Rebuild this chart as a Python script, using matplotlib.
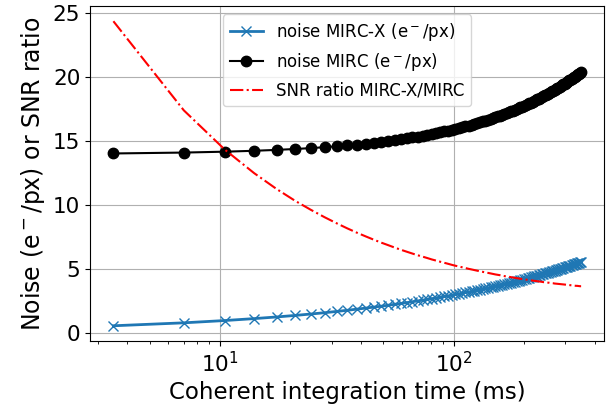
import matplotlib
matplotlib.use("Agg")
import matplotlib.pyplot as plt

time_ms = [3.5, 7.0, 10.5, 14.0, 17.5, 21.0, 24.5, 28.0, 31.5, 35.0,
           38.5, 42.0, 45.5, 49.0, 52.5, 56.0, 59.5, 63.0, 66.5, 70.0,
           73.5, 77.0, 80.5, 84.0, 87.5, 91.0, 94.5, 98.0, 101.5, 105.0,
           108.5, 112.0, 115.5, 119.0, 122.5, 126.0, 129.5, 133.0, 136.5, 140.0,
           143.5, 147.0, 150.5, 154.0, 157.5, 161.0, 164.5, 168.0, 171.5, 175.0,
           178.5, 182.0, 185.5, 189.0, 192.5, 196.0, 199.5, 203.0, 206.5, 210.0,
           213.5, 217.0, 220.5, 224.0, 227.5, 231.0, 234.5, 238.0, 241.5, 245.0,
           248.5, 252.0, 255.5, 259.0, 262.5, 266.0, 269.5, 273.0, 276.5, 280.0,
           283.5, 287.0, 290.5, 294.0, 297.5, 301.0, 304.5, 308.0, 311.5, 315.0,
           318.5, 322.0, 325.5, 329.0, 332.5, 336.0, 339.5, 343.0, 346.5, 350.0]

noise_mircx = [0.58, 0.81, 0.99, 1.14, 1.27, 1.39, 1.50, 1.60, 1.70, 1.79,
               1.88, 1.96, 2.04, 2.11, 2.19, 2.26, 2.33, 2.39, 2.46, 2.52,
               2.58, 2.64, 2.70, 2.76, 2.81, 2.87, 2.92, 2.97, 3.03, 3.08,
               3.13, 3.18, 3.22, 3.27, 3.32, 3.37, 3.41, 3.46, 3.50, 3.54,
               3.59, 3.63, 3.67, 3.72, 3.76, 3.80, 3.84, 3.88, 3.92, 3.96,
               4.00, 4.03, 4.07, 4.11, 4.15, 4.18, 4.22, 4.26, 4.29, 4.33,
               4.36, 4.40, 4.43, 4.47, 4.50, 4.54, 4.57, 4.60, 4.64, 4.67,
               4.70, 4.73, 4.77, 4.80, 4.83, 4.86, 4.89, 4.93, 4.96, 4.99,
               5.02, 5.05, 5.08, 5.11, 5.14, 5.17, 5.20, 5.23, 5.26, 5.28,
               5.31, 5.34, 5.37, 5.40, 5.43, 5.46, 5.48, 5.51, 5.54, 5.57]

noise_mirc = [14.04, 14.11, 14.18, 14.25, 14.32, 14.39, 14.46, 14.53, 14.60, 14.67,
              14.74, 14.81, 14.88, 14.95, 15.01, 15.08, 15.15, 15.22, 15.29, 15.35,
              15.42, 15.49, 15.56, 15.62, 15.69, 15.76, 15.82, 15.89, 15.96, 16.02,
              16.09, 16.16, 16.22, 16.29, 16.35, 16.42, 16.48, 16.55, 16.61, 16.68,
              16.74, 16.81, 16.87, 16.94, 17.00, 17.07, 17.13, 17.20, 17.26, 17.32,
              17.39, 17.45, 17.51, 17.58, 17.64, 17.70, 17.77, 17.83, 17.89, 17.96,
              18.02, 18.08, 18.14, 18.21, 18.27, 18.33, 18.39, 18.46, 18.52, 18.58,
              18.64, 18.70, 18.77, 18.83, 18.89, 18.95, 19.01, 19.07, 19.13, 19.19,
              19.26, 19.32, 19.38, 19.44, 19.50, 19.56, 19.62, 19.68, 19.74, 19.80,
              19.86, 19.92, 19.98, 20.04, 20.10, 20.16, 20.22, 20.28, 20.34, 20.40]

snr_ratio = [24.37, 17.41, 14.33, 12.50, 11.25, 10.33, 9.63, 9.06, 8.59, 8.19,
             7.85, 7.56, 7.30, 7.07, 6.87, 6.68, 6.51, 6.36, 6.22, 6.09,
             5.98, 5.87, 5.76, 5.67, 5.58, 5.50, 5.42, 5.34, 5.27, 5.21,
             5.15, 5.09, 5.03, 4.98, 4.93, 4.88, 4.83, 4.79, 4.75, 4.71,
             4.67, 4.63, 4.59, 4.56, 4.53, 4.49, 4.46, 4.43, 4.41, 4.38,
             4.35, 4.33, 4.30, 4.28, 4.25, 4.23, 4.21, 4.19, 4.17, 4.15,
             4.13, 4.11, 4.09, 4.08, 4.06, 4.04, 4.03, 4.01, 3.99, 3.98,
             3.96, 3.95, 3.94, 3.92, 3.91, 3.90, 3.88, 3.87, 3.86, 3.85,
             3.84, 3.83, 3.82, 3.81, 3.80, 3.79, 3.78, 3.77, 3.76, 3.75,
             3.74, 3.73, 3.72, 3.71, 3.70, 3.70, 3.69, 3.68, 3.67, 3.67]

labels = [r"noise MIRC-X (e$^-$/px)", r"noise MIRC (e$^-$/px)", "SNR ratio MIRC-X/MIRC"]

fig = plt.figure(figsize=(6.1, 4.11), dpi=100)
ax = fig.add_axes([90/610, 1 - 341/411, (604.5 - 90)/610, (341 - 6)/411])

ax.plot(time_ms, noise_mircx, marker="x", color="#1f77b4", lw=2, ms=7, label=labels[0])
ax.plot(time_ms, noise_mirc, marker="o", color="black", lw=1.5, ms=7.5, label=labels[1])
ax.plot(time_ms, snr_ratio, "r-.", lw=1.5, label=labels[2])

ax.set_xscale("log")
ax.grid(True, color="#b0b0b0")
ax.set_xlabel("Coherent integration time (ms)", fontsize=16.5)
ax.set_ylabel(r"Noise (e$^-$/px) or SNR ratio", fontsize=17)
ax.tick_params(axis="both", which="major", labelsize=15.5)
ax.legend(loc="upper center", fontsize=12)

fig.savefig("out.png", dpi=100)
